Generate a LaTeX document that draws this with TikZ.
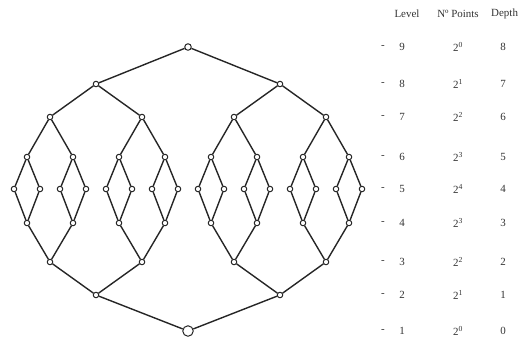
\documentclass[tikz,border=0pt]{standalone}
\usepackage{fontspec}
\setmainfont{Liberation Serif}
\begin{document}
\begin{tikzpicture}[x=1bp,y=-1bp,
  pt/.style={circle,draw=black!85,fill=white,line width=1bp,inner sep=0pt,minimum size=5.5bp},
  bigpt/.style={pt,minimum size=10.5bp},
  edge/.style={draw=black!85,line width=1.4bp},
  tab/.style={font=\fontsize{11}{13}\selectfont,inner sep=0pt,text=black!80}]
\useasboundingbox (0,0) rectangle (521,337);
% nodes
\node[pt,minimum size=6.5bp] (a9) at (188,47) {};
\foreach \x [count=\i] in {96,280} \node[pt] (a8-\i) at (\x,84) {};
\foreach \x [count=\i] in {50,142,234,326} \node[pt] (a7-\i) at (\x,117) {};
\foreach \x [count=\i] in {27,73,119,165,211,257,303,349} \node[pt] (a6-\i) at (\x,157) {};
\foreach \x [count=\i] in {14,40,60,86,106,132,152,178,198,224,244,270,290,316,336,362} \node[pt] (a5-\i) at (\x,189) {};
\foreach \x [count=\i] in {27,73,119,165,211,257,303,349} \node[pt] (b4-\i) at (\x,223) {};
\foreach \x [count=\i] in {50,142,234,326} \node[pt] (b3-\i) at (\x,262) {};
\foreach \x [count=\i] in {96,280} \node[pt] (b2-\i) at (\x,295) {};
\node[bigpt] (b1) at (188,331) {};
% edges
\foreach \i in {1,2} {\draw[edge] (a9) -- (a8-\i); \draw[edge] (b2-\i) -- (b1);}
\foreach \j in {1,...,4} {\pgfmathtruncatemacro\p{(\j+1)/2}
  \draw[edge] (a8-\p) -- (a7-\j); \draw[edge] (b3-\j) -- (b2-\p);}
\foreach \j in {1,...,8} {\pgfmathtruncatemacro\p{(\j+1)/2}
  \draw[edge] (a7-\p) -- (a6-\j); \draw[edge] (b4-\j) -- (b3-\p);}
\foreach \j in {1,...,16} {\pgfmathtruncatemacro\p{(\j+1)/2}
  \draw[edge] (a6-\p) -- (a5-\j); \draw[edge] (a5-\j) -- (b4-\p);}
% table
\node[tab] (hl) at (407,14) {Level};
\node[tab] (hn) at (458,14) {Nº Points};
\node[tab,anchor=west] (hd) at (491,14) {Depth};
\foreach \y/\l/\e [count=\r] in {47/9/0,84/8/1,117/7/2,157/6/3,189/5/4,223/4/3,262/3/2,295/2/1,331/1/0} {
  \pgfmathtruncatemacro\d{\l-1}
  \node[tab] (dash\r) at (383,\y) {-};
  \node[tab] (lv\r) at (402,\y) {\l};
  \node[tab] (np\r) at (458,\y) {2\textsuperscript{\e}};
  \node[tab] (dp\r) at (503,\y) {\d};
}
\end{tikzpicture}
\end{document}
